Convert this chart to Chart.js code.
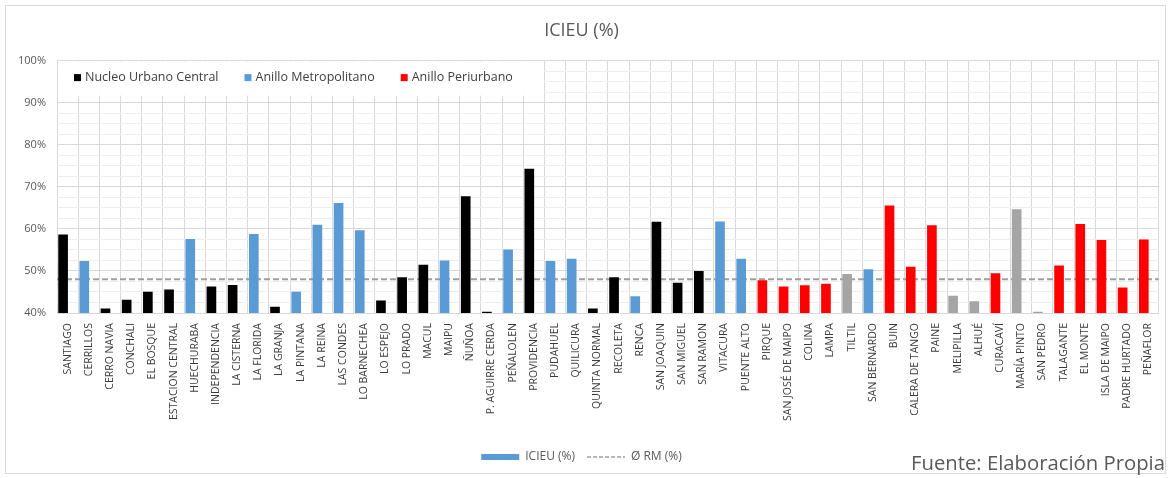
<!DOCTYPE html>
<html>
<head>
<meta charset="utf-8">
<script src="https://cdn.jsdelivr.net/npm/chart.js@4/dist/chart.umd.min.js"></script>
<style>
  html, body { margin: 0; padding: 0; background: #fff; }
  #wrap { position: relative; width: 1171px; height: 478px; }
  #fuente { position: absolute; right: 6px; top: 448px; font: 20.3px "Open Sans", sans-serif; color: #595959; white-space: nowrap; }
</style>
</head>
<body>
<div id="wrap">
  <canvas id="c" width="1171" height="478"></canvas>
  <div id="fuente">Fuente: Elaboración Propia</div>
</div>
<script>
// Comunas de la Región Metropolitana
const comunas = [
  'SANTIAGO', 'CERRILLOS', 'CERRO NAVIA', 'CONCHALI', 'EL BOSQUE', 'ESTACION CENTRAL',
  'HUECHURABA', 'INDEPENDENCIA', 'LA CISTERNA', 'LA FLORIDA', 'LA GRANJA', 'LA PINTANA',
  'LA REINA', 'LAS CONDES', 'LO BARNECHEA', 'LO ESPEJO', 'LO PRADO', 'MACUL', 'MAIPU',
  'ÑUÑOA', 'P. AGUIRRE CERDA', 'PEÑALOLEN', 'PROVIDENCIA', 'PUDAHUEL', 'QUILICURA',
  'QUINTA NORMAL', 'RECOLETA', 'RENCA', 'SAN JOAQUIN', 'SAN MIGUEL', 'SAN RAMON',
  'VITACURA', 'PUENTE ALTO', 'PIRQUE', 'SAN JOSÉ DE MAIPO', 'COLINA', 'LAMPA', 'TILTIL',
  'SAN BERNARDO', 'BUIN', 'CALERA DE TANGO', 'PAINE', 'MELIPILLA', 'ALHUÉ', 'CURACAVÍ',
  'MARÍA PINTO', 'SAN PEDRO', 'TALAGANTE', 'EL MONTE', 'ISLA DE MAIPO', 'PADRE HURTADO',
  'PEÑAFLOR'
];

// ICIEU (%) por comuna
const icieu = [
  58.6, 52.3, 41.0, 43.1, 45.0, 45.5,
  57.5, 46.2, 46.6, 58.7, 41.4, 45.0,
  60.9, 66.1, 59.6, 42.9, 48.4, 51.4, 52.4,
  67.7, 40.2, 55.0, 74.2, 52.3, 52.8,
  41.0, 48.4, 43.9, 61.6, 47.1, 49.9,
  61.7, 52.8, 47.7, 46.2, 46.5, 46.9, 49.2,
  50.3, 65.5, 50.9, 60.8, 44.0, 42.7, 49.4,
  64.6, 40.2, 51.2, 61.1, 57.3, 46.0,
  57.4
];

// Anillo de cada comuna: N = Núcleo Urbano Central, M = Anillo Metropolitano,
// P = Anillo Periurbano, O = otras comunas
const anillo = [
  'N', 'M', 'N', 'N', 'N', 'N',
  'M', 'N', 'N', 'M', 'N', 'M',
  'M', 'M', 'M', 'N', 'N', 'N', 'M',
  'N', 'N', 'M', 'N', 'M', 'M',
  'N', 'N', 'M', 'N', 'N', 'N',
  'M', 'M', 'P', 'P', 'P', 'P', 'O',
  'M', 'P', 'P', 'P', 'O', 'O', 'P',
  'O', 'O', 'P', 'P', 'P', 'P',
  'P'
];

// Promedio regional Ø RM (%)
const promedioRM = 48.0;

// Eje vertical
const ejeMin = 40, ejeMax = 100, ejePaso = 10;

const coloresAnillo = { N: '#000000', M: '#5B9BD5', P: '#FF0000', O: '#A5A5A5' };
const leyendaAnillos = [
  { texto: 'Nucleo Urbano Central', clave: 'N' },
  { texto: 'Anillo Metropolitano', clave: 'M' },
  { texto: 'Anillo Periurbano', clave: 'P' }
];

const FONT = '"Open Sans", sans-serif';

// Fondo blanco y marco exterior
const marco = {
  id: 'marco',
  beforeDraw(chart) {
    const ctx = chart.ctx;
    ctx.save();
    ctx.fillStyle = '#ffffff';
    ctx.fillRect(0, 0, chart.width, chart.height);
    ctx.strokeStyle = '#d9d9d9';
    ctx.lineWidth = 1;
    ctx.strokeRect(5.5, 5.5, chart.width - 11, chart.height - 10);
    ctx.restore();
  }
};

// Leyenda de anillos dentro del área de trazado
const leyendaSuperior = {
  id: 'leyendaSuperior',
  beforeDatasetsDraw(chart) {
    const ctx = chart.ctx;
    const a = chart.chartArea;
    ctx.save();
    ctx.fillStyle = '#ffffff';
    ctx.fillRect(a.left + 1, a.top + 1, 486, 34);
    ctx.font = '12.5px ' + FONT;
    ctx.textBaseline = 'middle';
    let x = a.left + 17;
    const y = a.top + 17;
    leyendaAnillos.forEach(item => {
      ctx.fillStyle = coloresAnillo[item.clave];
      ctx.fillRect(x, y - 3.5, 7, 7);
      ctx.fillStyle = '#404040';
      ctx.fillText(item.texto, x + 11, y);
      x += 11 + ctx.measureText(item.texto).width + 26;
    });
    ctx.restore();
  }
};

new Chart(document.getElementById('c'), {
  data: {
    labels: comunas,
    datasets: [
      {
        type: 'bar',
        label: 'ICIEU (%)',
        data: icieu,
        backgroundColor: anillo.map(k => coloresAnillo[k]),
        borderWidth: 0,
        barThickness: 9,
        order: 1,
        xAxisID: 'x',
        yAxisID: 'y'
      },
      {
        type: 'line',
        label: 'Ø RM (%)',
        data: [{ x: 0, y: promedioRM }, { x: 1, y: promedioRM }],
        borderColor: '#9f9f9f',
        borderWidth: 2,
        borderDash: [6, 3],
        pointRadius: 0,
        fill: false,
        order: 2,
        xAxisID: 'xLinea',
        yAxisID: 'y'
      }
    ]
  },
  options: {
    responsive: false,
    animation: false,
    layout: { padding: { top: 6, right: 8, bottom: 5, left: 0 } },
    plugins: {
      title: {
        display: true,
        text: 'ICIEU (%)',
        color: '#595959',
        font: { family: FONT, size: 18, weight: 'normal' },
        padding: { top: 14, bottom: 19 }
      },
      legend: {
        position: 'bottom',
        labels: {
          usePointStyle: true,
          pointStyleWidth: 38,
          boxHeight: 6,
          padding: 12,
          color: '#595959',
          font: { family: FONT, size: 12 },
          generateLabels() {
            return [
              { text: 'ICIEU (%)', fillStyle: '#5B9BD5', strokeStyle: '#5B9BD5', lineWidth: 0,
                pointStyle: 'rect', hidden: false, datasetIndex: 0, fontColor: '#595959' },
              { text: 'Ø RM (%)', fillStyle: 'rgba(0,0,0,0)', strokeStyle: '#9f9f9f', lineWidth: 1.5,
                lineDash: [4, 2], pointStyle: 'line', hidden: false, datasetIndex: 1, fontColor: '#595959' }
            ];
          }
        }
      },
      tooltip: { enabled: false }
    },
    scales: {
      x: {
        type: 'category',
        offset: true,
        grid: { offset: true, color: '#d9d9d9', drawTicks: false },
        border: { color: '#d9d9d9' },
        ticks: {
          autoSkip: false,
          maxRotation: 90,
          minRotation: 90,
          padding: 10,
          color: '#3a3a3a',
          font: { family: FONT, size: 10.5 }
        },
        afterFit(scale) { scale.height = 126; }
      },
      xLinea: {
        type: 'linear',
        display: false,
        min: 0,
        max: 1
      },
      y: {
        min: ejeMin,
        max: ejeMax,
        grid: { color: '#d9d9d9', drawTicks: false },
        border: { display: false },
        ticks: {
          stepSize: ejePaso,
          padding: 11,
          color: '#595959',
          font: { family: FONT, size: 11 },
          callback: v => v + '%'
        },
        afterFit(scale) { scale.width = 57; }
      },
      yMenor: {
        position: 'left',
        min: ejeMin,
        max: ejeMax,
        display: true,
        grid: {
          drawTicks: false,
          color: ctx => (ctx.tick && ctx.tick.value % ejePaso === 0) ? 'rgba(0,0,0,0)' : '#eeeeee'
        },
        border: { display: false },
        ticks: { stepSize: 2.5, display: false },
        afterFit(scale) { scale.width = 0; }
      }
    }
  },
  plugins: [marco, leyendaSuperior]
});
</script>
</body>
</html>
